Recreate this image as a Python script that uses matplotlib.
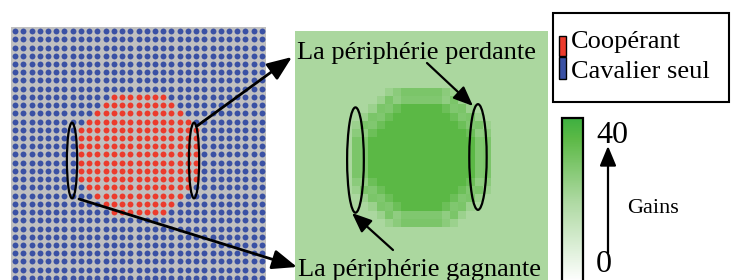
import matplotlib
matplotlib.use("Agg")
import matplotlib.pyplot as plt
import numpy as np
from matplotlib.colors import LinearSegmentedColormap, Normalize
from matplotlib.cm import ScalarMappable
from matplotlib.patches import Ellipse, Rectangle

plt.rcParams['font.family'] = ['Liberation Serif', 'DejaVu Serif']

# strategies: C = coopérant, . = cavalier seul
STRATEGIES = (
    ["." * 31] * 8
    + ["." * 12 + "C" * 7 + "." * 12,
       "." * 11 + "C" * 9 + "." * 11,
       "." * 10 + "C" * 11 + "." * 10,
       "." * 9 + "C" * 13 + "." * 9]
    + ["." * 8 + "C" * 15 + "." * 8] * 7
    + ["." * 9 + "C" * 13 + "." * 9,
       "." * 10 + "C" * 11 + "." * 10,
       "." * 11 + "C" * 9 + "." * 11,
       "." * 12 + "C" * 7 + "." * 12]
    + ["." * 31] * 8
)

# gains, one letter per cell
GAIN_TOP = [
    "." * 11 + "uv" + "w" * 5 + "vu" + "." * 11,
    "." * 10 + "uwg" + "f" * 5 + "gwu" + "." * 10,
    "." * 9 + "uwfe" + "o" * 5 + "efwu" + "." * 9,
    "." * 8 + "uwfe" + "o" * 7 + "efwu" + "." * 8,
    "." * 7 + "uwfe" + "o" * 9 + "efwu" + "." * 7,
    "." * 7 + "vge" + "o" * 11 + "egv" + "." * 7,
]
GAIN_ROWS = (["." * 31] * 7 + GAIN_TOP
             + ["." * 7 + "wf" + "o" * 13 + "fw" + "." * 7] * 5
             + GAIN_TOP[::-1] + ["." * 31] * 7)
GAIN_LEVELS = {".": 20, "u": 23, "v": 26, "w": 29,
               "g": 25, "f": 28, "e": 32, "o": 35}

GAIN_MIN, GAIN_MAX = 0, 40
LEGEND_LABELS = ["Coopérant", "Cavalier seul"]

RED = "#ec3b2c"
BLUE = "#3a51a4"
GRAY = "#c0c0c0"


def main():
    fig = plt.figure(figsize=(7.32, 2.80), dpi=100)
    W, H = 732, 280

    grid = np.array([list(r) for r in STRATEGIES])
    rows, cols = np.indices(grid.shape)
    coop = grid == "C"

    # left panel: strategies
    ax1 = fig.add_axes([11 / W, -2 / H, 255 / W, 255 / H])
    ax1.set_facecolor(GRAY)
    ax1.scatter(cols[~coop], rows[~coop], s=18, c=BLUE, linewidths=0)
    ax1.scatter(cols[coop], rows[coop], s=18, c=RED, linewidths=0)
    ax1.set_xlim(-0.5, 30.5)
    ax1.set_ylim(30.5, -0.5)
    ax1.set_xticks([])
    ax1.set_yticks([])
    for s in ax1.spines.values():
        s.set_visible(False)
    for x in (6.92, 21.75):
        ax1.add_patch(Ellipse((x, 15.73), 1.25, 9.2, fill=False,
                              lw=1.6, ec="black"))

    # right panel: gains
    cmap = LinearSegmentedColormap.from_list(
        "gains", [(0, "#ffffff"), (0.5, "#acd8a0"),
                  (0.875, "#5cb946"), (1, "#3db040")])
    gains = np.array([[GAIN_LEVELS[ch] for ch in r] for r in GAIN_ROWS])
    ax2 = fig.add_axes([295 / W, -4 / H, 253 / W, 253 / H])
    ax2.imshow(gains, cmap=cmap, vmin=GAIN_MIN, vmax=GAIN_MAX,
               interpolation="nearest", aspect="auto")
    ax2.set_xticks([])
    ax2.set_yticks([])
    for s in ax2.spines.values():
        s.set_visible(False)
    ax2.add_patch(Ellipse((6.91, 15.31), 2.05, 12.9, fill=False,
                          lw=1.6, ec="black"))
    ax2.add_patch(Ellipse((21.92, 14.94), 2.13, 12.95, fill=False,
                          lw=1.6, ec="black"))

    # colorbar
    cax = fig.add_axes([562 / W, -2 / H, 21 / W, 164 / H])
    cbar = fig.colorbar(ScalarMappable(Normalize(GAIN_MIN, GAIN_MAX), cmap),
                        cax=cax)
    cbar.set_ticks([])
    cbar.outline.set_linewidth(1.6)

    # overlay in pixel coordinates for arrows, legend and labels
    ov = fig.add_axes([0, 0, 1, 1])
    ov.set_xlim(0, W)
    ov.set_ylim(H, 0)
    ov.axis("off")
    ov.patch.set_alpha(0)

    big = dict(arrowstyle="-|>,head_length=1.5,head_width=0.6",
               lw=2, color="black", shrinkA=0, shrinkB=0, mutation_scale=10)
    small = dict(arrowstyle="-|>,head_length=1.2,head_width=0.5",
                 lw=1.6, color="black", shrinkA=0, shrinkB=0,
                 mutation_scale=10)
    ov.annotate("", xy=(292, 57), xytext=(197, 126), arrowprops=big)
    ov.annotate("", xy=(297, 267), xytext=(79, 199), arrowprops=big)
    ov.annotate("", xy=(473, 106), xytext=(427, 63), arrowprops=small)
    ov.annotate("", xy=(352, 213), xytext=(393, 250), arrowprops=small)
    ov.annotate("", xy=(608, 146), xytext=(608, 253), arrowprops=small)

    ov.text(297, 59, "La périphérie perdante", fontsize=19, va="baseline")
    ov.text(298, 276, "La périphérie gagnante", fontsize=19, va="baseline")

    # legend box
    ov.add_patch(Rectangle((553, 13), 176, 89, fill=True, fc="white",
                           ec="black", lw=1.5))
    ov.add_patch(Rectangle((559, 36), 7, 20, fc=RED, ec="black", lw=1))
    ov.add_patch(Rectangle((559, 57), 7, 22, fc=BLUE, ec="black", lw=1))
    ov.text(571, 48, LEGEND_LABELS[0], fontsize=19, va="baseline")
    ov.text(571, 78, LEGEND_LABELS[1], fontsize=19, va="baseline")

    ov.text(596, 143, str(GAIN_MAX), fontsize=23, va="baseline")
    ov.text(596, 279, str(GAIN_MIN), fontsize=23, va="bottom")
    ov.text(627, 213, "Gains", fontsize=16, va="baseline")

    fig.savefig("out.png", dpi=100)


if __name__ == "__main__":
    main()
